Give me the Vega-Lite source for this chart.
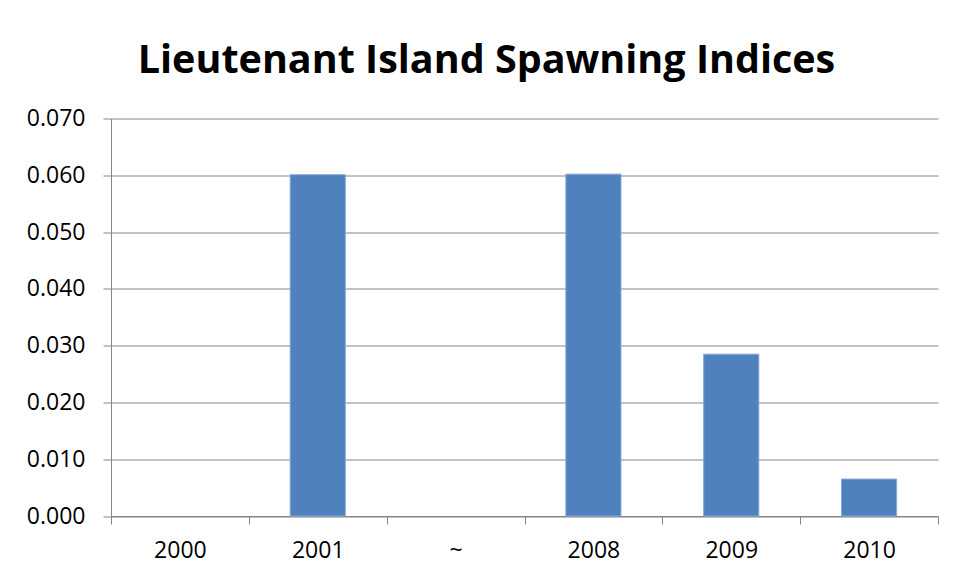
{
  "$schema": "https://vega.github.io/schema/vega-lite/v6.json",
  "autosize": "none",
  "width": 827,
  "height": 397.5,
  "padding": {"left": 111, "top": 118.5, "right": 18, "bottom": 64},
  "background": "white",
  "title": {
    "text": "Lieutenant Island Spawning Indices",
    "font": "Open Sans",
    "fontSize": 39.5,
    "fontWeight": "bold",
    "color": "#000000",
    "anchor": "middle",
    "baseline": "alphabetic",
    "dx": -38,
    "dy": 37,
    "offset": 32
  },
  "data": {
    "values": [
      {"year": "2000", "index": null},
      {"year": "2001", "index": 0.0601},
      {"year": "~", "index": null},
      {"year": "2008", "index": 0.0602},
      {"year": "2009", "index": 0.0285},
      {"year": "2010", "index": 0.0065}
    ]
  },
  "mark": {"type": "bar", "color": "#4F81BD", "stroke": "#86A8D6", "strokeWidth": 1, "width": {"band": 0.4}},
  "encoding": {
    "x": {
      "field": "year",
      "type": "nominal",
      "sort": null,
      "scale": {"domain": ["2000", "2001", "~", "2008", "2009", "2010"], "paddingInner": 0, "paddingOuter": 0},
      "axis": {
        "title": null,
        "labelAngle": 0,
        "tickBand": "extent",
        "tickSize": 8,
        "tickColor": "#868686",
        "domainColor": "#868686",
        "labelFont": "Open Sans",
        "labelFontSize": 23,
        "labelColor": "#000000",
        "labelPadding": 15,
        "grid": false
      }
    },
    "y": {
      "field": "index",
      "type": "quantitative",
      "scale": {"domain": [0, 0.07], "nice": false},
      "axis": {
        "title": null,
        "values": [0, 0.01, 0.02, 0.03, 0.04, 0.05, 0.06, 0.07],
        "format": ".3f",
        "tickSize": 8,
        "tickColor": "#868686",
        "domainColor": "#868686",
        "gridColor": "#868686",
        "labelFont": "Open Sans",
        "labelFontSize": 23,
        "labelColor": "#000000",
        "labelPadding": 18
      }
    }
  },
  "config": {"view": {"stroke": null}}
}
